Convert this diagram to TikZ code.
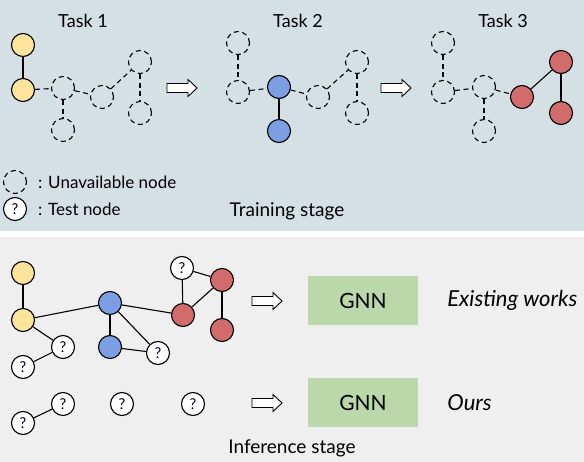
\documentclass[tikz,border=0pt]{standalone}
\usepackage{fontspec}
\setmainfont{Lato}
\usepackage{xcolor}
\definecolor{topbg}{HTML}{D5E0E4}
\definecolor{botbg}{HTML}{EFEFEF}
\definecolor{tyellow}{HTML}{FCE49C}
\definecolor{tblue}{HTML}{7B9FE2}
\definecolor{tred}{HTML}{D26B6B}
\definecolor{gnngreen}{HTML}{BBD8AA}
\usepackage{tikz}
\usetikzlibrary{positioning}
\tikzset{
  gnode/.style ={circle, draw=black, line width=1.1pt, minimum size=23pt, inner sep=0pt},
  ynode/.style ={gnode, fill=tyellow},
  bnode/.style ={gnode, fill=tblue},
  rnode/.style ={gnode, fill=tred},
  unode/.style ={gnode, dash pattern=on 5pt off 3.6pt},
  qnode/.style ={gnode, fill=white, font=\fontsize{15}{15}\selectfont, text=black!85!blue},
  edg/.style   ={line width=1.1pt},
  dedg/.style  ={line width=1.1pt, dash pattern=on 5pt off 3.6pt},
  gnnbox/.style={rectangle, fill=gnngreen, minimum width=110pt, minimum height=49pt,
                 font=\fontsize{21}{24}\selectfont},
  lbl/.style   ={font=\fontsize{17}{20}\selectfont, inner sep=0pt},
  stage/.style ={lbl, font=\fontsize{19}{22}\selectfont},
  task/.style  ={lbl, font=\fontsize{18}{21}\selectfont},
  result/.style={lbl, anchor=west, font=\fontsize{22}{25}\selectfont\itshape},
  hollowarrow/.pic={
    \draw[fill=white, line width=0.9pt] (0,-4.5) -- (21,-4.5) -- (21,-8.5) -- (30,0)
      -- (21,8.5) -- (21,4.5) -- (0,4.5) -- cycle;
  },
}

\begin{document}
\begin{tikzpicture}[x=1pt, y=-1pt]
  \useasboundingbox (0,0) rectangle (584,462);
  \fill[topbg] (0,0) rectangle (584,231);
  \fill[botbg] (0,237) rectangle (584,462);

  % training stage
  \node[task] (t1) at (83,21) {Task 1};
  \node[task] (t2) at (298,21) {Task 2};
  \node[task] (t3) at (503,21) {Task 3};

  \node[ynode] (a1) at (23,45) {};
  \node[ynode] (a2) at (23,90) {};
  \node[unode] (a3) at (63,88) {};
  \node[unode] (a4) at (63,130) {};
  \node[unode] (a5) at (102,97) {};
  \node[unode] (a6) at (140,62) {};
  \node[unode] (a7) at (140,113) {};
  \draw[edg] (a1) -- (a2);
  \draw[dedg] (a2) -- (a3);
  \draw[dedg] (a3) -- (a4);
  \draw[dedg] (a3) -- (a5);
  \draw[dedg] (a5) -- (a6);
  \draw[dedg] (a6) -- (a7);

  \node[unode] (b1) at (238,43) {};
  \node[unode] (b2) at (238,92) {};
  \node[bnode] (b3) at (279,87) {};
  \node[bnode] (b4) at (279,131) {};
  \node[unode] (b5) at (318,97) {};
  \node[unode] (b6) at (357,62) {};
  \node[unode] (b7) at (357,113) {};
  \draw[dedg] (b1) -- (b2);
  \draw[dedg] (b2) -- (b3);
  \draw[edg] (b3) -- (b4);
  \draw[dedg] (b3) -- (b5);
  \draw[dedg] (b5) -- (b6);
  \draw[dedg] (b6) -- (b7);

  \node[unode] (c1) at (443,43) {};
  \node[unode] (c2) at (443,92) {};
  \node[unode] (c3) at (484,87) {};
  \node[unode] (c4) at (484,131) {};
  \node[rnode] (c5) at (522,97) {};
  \node[rnode] (c6) at (561,62) {};
  \node[rnode] (c7) at (561,113) {};
  \draw[dedg] (c1) -- (c2);
  \draw[dedg] (c2) -- (c3);
  \draw[dedg] (c3) -- (c4);
  \draw[dedg] (c3) -- (c5);
  \draw[edg] (c5) -- (c6);
  \draw[edg] (c6) -- (c7);

  \pic at (167,88) {hollowarrow};
  \pic at (381,88) {hollowarrow};

  % legend
  \node[unode] (lu) at (15,182) {};
  \node[lbl, anchor=west] (lut) at (38,182) {: Unavailable node};
  \node[qnode] (lq) at (15,209) {?};
  \node[lbl, anchor=west] (lqt) at (38,209) {: Test node};
  \node[stage] (train) at (287,211) {Training stage};

  % inference stage
  \node[ynode] (y1) at (23,273) {};
  \node[ynode] (y2) at (23,320) {};
  \node[qnode] (q1) at (63,347) {?};
  \node[qnode] (q2) at (23,367) {?};
  \node[bnode] (u1) at (110,303) {};
  \node[bnode] (u2) at (110,347) {};
  \node[qnode] (q3) at (158,353) {?};
  \node[rnode] (r1) at (183,315) {};
  \node[qnode] (q4) at (182,268) {?};
  \node[rnode] (r2) at (222,280) {};
  \node[rnode] (r3) at (222,330) {};
  \draw[edg] (y1) -- (y2);
  \draw[edg] (y2) -- (u1);
  \draw[edg] (y2) -- (q1);
  \draw[edg] (q1) -- (q2);
  \draw[edg] (u1) -- (u2);
  \draw[edg] (u1) -- (q3);
  \draw[edg] (u2) -- (q3);
  \draw[edg] (u1) -- (r1);
  \draw[edg] (r1) -- (q4);
  \draw[edg] (r1) -- (r2);
  \draw[edg] (q4) -- (r2);
  \draw[edg] (r2) -- (r3);

  \node[qnode] (q5) at (23,423) {?};
  \node[qnode] (q6) at (63,404) {?};
  \node[qnode] (q7) at (122,404) {?};
  \node[qnode] (q8) at (193,404) {?};
  \draw[edg] (q5) -- (q6);

  \pic at (252,301) {hollowarrow};
  \pic at (252,403) {hollowarrow};

  \node[gnnbox] (gnn1) at (363,300.5) {GNN};
  \node[gnnbox] (gnn2) at (363,402.5) {GNN};
  \node[result, right=29pt of gnn1] (exist) {Existing works};
  \node[result, right=29pt of gnn2] (ours) {Ours};
  \node[stage] (infer) at (292,448) {Inference stage};
\end{tikzpicture}
\end{document}
